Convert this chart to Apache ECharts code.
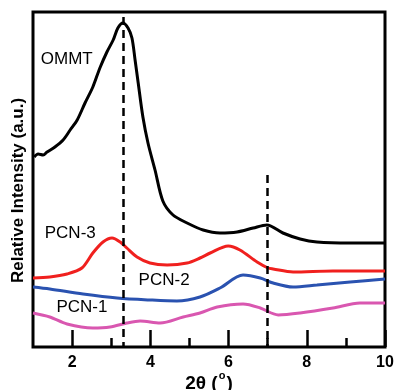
<!DOCTYPE html>
<html>
<head>
<meta charset="utf-8">
<script src="https://cdn.jsdelivr.net/npm/echarts@6/dist/echarts.min.js"></script>
<style>
  html, body { margin: 0; padding: 0; background: #fff; }
  #chart { width: 395px; height: 390px; }
</style>
</head>
<body>
<div id="chart"></div>
<script>
// 2θ / intensity pairs (arbitrary units)
const ommt = [
  [1.03, 190], [1.13, 193], [1.26, 192], [1.36, 195], [1.56, 200], [1.77, 207],
  [1.95, 217], [2.13, 227], [2.33, 244], [2.53, 260], [2.71, 279], [2.89, 295],
  [3.05, 307], [3.17, 319], [3.30, 324], [3.43, 319], [3.53, 309], [3.61, 287],
  [3.69, 264], [3.81, 230], [3.94, 204], [4.12, 177], [4.32, 146], [4.58, 132],
  [4.94, 124], [5.35, 117], [5.78, 114], [6.22, 115], [6.63, 119], [6.98, 122],
  [7.39, 114], [7.83, 108], [8.26, 105], [9.10, 104], [10.0, 104]
];
const pcn3 = [
  [1.00, 69], [1.43, 70], [1.87, 73], [2.25, 79], [2.53, 94], [2.79, 105],
  [3.02, 109], [3.23, 105], [3.40, 99], [3.66, 90], [3.99, 84], [4.43, 82],
  [4.94, 84], [5.27, 89], [5.53, 94], [5.99, 101], [6.29, 97], [6.73, 85],
  [7.01, 79], [7.14, 78], [7.65, 75], [8.67, 76], [10.0, 76]
];
const pcn2 = [
  [1.00, 60], [1.43, 58], [2.28, 53], [3.15, 49], [3.99, 47], [4.68, 46],
  [5.27, 50], [5.78, 59], [6.37, 72], [6.81, 69], [7.14, 64], [7.65, 60],
  [8.26, 62], [9.11, 65], [10.0, 68]
];
const pcn1 = [
  [1.00, 34], [1.43, 30], [1.87, 23], [2.53, 19], [2.97, 20], [3.40, 24],
  [3.74, 26], [4.25, 24], [4.84, 30], [5.27, 34], [5.71, 40], [6.37, 43],
  [6.81, 39], [7.27, 32], [7.83, 34], [8.67, 39], [9.36, 44], [10.0, 44]
];
const majorTicks = [2, 4, 6, 8, 10];
const minorTicks = [3, 5, 7, 9];
// dashed guide lines: position and upper end
const guideX = [3.3, 7.0];
const guideTop = [330, 172];
// curve labels: [x, y, text]
const curveLabels = [
  [1.2, 288, 'OMMT'],
  [1.3, 114, 'PCN-3'],
  [3.7, 67, 'PCN-2'],
  [1.6, 40, 'PCN-1']
];

const chart = echarts.init(document.getElementById('chart'));
const font = 'Liberation Sans, Arial, sans-serif';

function line(name, data, color) {
  return {
    name: name,
    type: 'line',
    data: data,
    smooth: 0.3,
    symbol: 'none',
    lineStyle: { color: color, width: 3 },
    z: 3
  };
}

const option = {
  animation: false,
  grid: {
    left: 33, right: 10, top: 12, bottom: 43,
    outerBoundsMode: 'none',
    containLabel: false,
    show: true, borderColor: '#000', borderWidth: 3
  },
  xAxis: [
    {
      type: 'value', min: 1, max: 10,
      axisLine: { show: false },
      splitLine: { show: false },
      axisTick: { inside: true, length: 17, customValues: majorTicks, lineStyle: { color: '#000', width: 2.5 } },
      axisLabel: { customValues: majorTicks, color: '#000', fontSize: 16, fontWeight: 'bold', fontFamily: font, margin: 8 },
      name: '{a|2θ (}{s|o}{a|)}',
      nameLocation: 'middle',
      nameGap: 23,
      nameMoveOverlap: false,
      nameTextStyle: {
        rich: {
          a: { fontSize: 19, fontWeight: 'bold', fontFamily: font, color: '#000' },
          s: { fontSize: 11, fontWeight: 'bold', fontFamily: font, color: '#000', verticalAlign: 'top', padding: [0, 1, 16, 1] }
        }
      }
    },
    {
      type: 'value', min: 1, max: 10, position: 'bottom',
      axisLine: { show: false },
      splitLine: { show: false },
      axisTick: { inside: true, length: 9, customValues: minorTicks, lineStyle: { color: '#000', width: 2.5 } },
      axisLabel: { show: false }
    }
  ],
  yAxis: {
    type: 'value', min: 0, max: 335,
    axisLine: { show: false },
    axisTick: { show: false },
    axisLabel: { show: false },
    splitLine: { show: false },
    name: 'Relative Intensity (a.u.)',
    nameLocation: 'middle',
    nameGap: 6,
    nameMoveOverlap: false,
    nameTextStyle: { fontSize: 17, fontWeight: 'bold', fontFamily: font, color: '#000', padding: [0, 22, 0, 0] }
  },
  series: [
    Object.assign(line('OMMT', ommt, '#000000'), {
      markLine: {
        silent: true,
        symbol: 'none',
        label: { show: false },
        lineStyle: { color: '#000', width: 2.5, type: [8, 5] },
        data: guideX.map((x, i) => [{ coord: [x, guideTop[i]] }, { coord: [x, 0] }])
      }
    }),
    line('PCN-3', pcn3, '#f0201e'),
    line('PCN-2', pcn2, '#2a52b0'),
    line('PCN-1', pcn1, '#d957b0'),
    {
      type: 'scatter',
      data: curveLabels.map(d => [d[0], d[1], d[2]]),
      symbolSize: 0,
      itemStyle: { opacity: 1 },
      label: {
        show: true,
        position: 'right',
        distance: 0,
        formatter: p => p.value[2],
        fontSize: 17,
        fontFamily: font,
        color: '#000',
        opacity: 1,
        textBorderWidth: 0
      },
      z: 4
    }
  ]
};
chart.setOption(option);
</script>
</body>
</html>
